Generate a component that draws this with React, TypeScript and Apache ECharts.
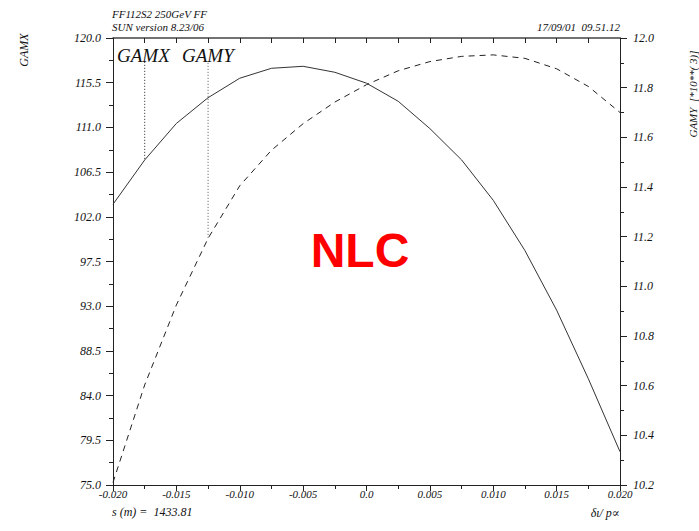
import React, { useEffect, useRef } from "react";
import * as echarts from "echarts";

// ---- data ----
const xValues = [
  -0.02, -0.0175, -0.015, -0.0125, -0.01, -0.0075, -0.005, -0.0025, 0,
  0.0025, 0.005, 0.0075, 0.01, 0.0125, 0.015, 0.0175, 0.02,
];
const gamx = [
  103.26, 107.72, 111.4, 113.99, 115.95, 116.95, 117.15, 116.55, 115.45,
  113.63, 110.88, 107.73, 103.66, 98.6, 92.6, 85.7, 78.35,
];
const gamy = [
  10.21, 10.603, 10.925, 11.193, 11.405, 11.548, 11.655, 11.742, 11.812,
  11.868, 11.905, 11.926, 11.932, 11.918, 11.876, 11.805, 11.7,
];
const xTicks = [-0.02, -0.015, -0.01, -0.005, 0, 0.005, 0.01, 0.015, 0.02];
const xMinorTicks = [-0.0175, -0.0125, -0.0075, -0.0025, 0.0025, 0.0075, 0.0125, 0.0175];
const gamxTicks = [75, 79.5, 84, 88.5, 93, 97.5, 102, 106.5, 111, 115.5, 120];
const gamxMinorTicks = [77.25, 81.75, 86.25, 90.75, 95.25, 99.75, 104.25, 108.75, 113.25, 117.75];
const gamyTicks = [10.2, 10.4, 10.6, 10.8, 11.0, 11.2, 11.4, 11.6, 11.8, 12.0];
const gamyMinorTicks = [10.3, 10.5, 10.7, 10.9, 11.1, 11.3, 11.5, 11.7, 11.9];
// legend marker lines: index into data and top value of the dotted line
const gamxMarkerIdx = 1;
const gamyMarkerIdx = 3;
const gamxMarkerTop = 117.6;
const gamyMarkerTop = 11.9;

const SERIF = '"Liberation Serif", "DejaVu Serif", serif';
const AXIS_COLOR = "#222";
const TEXT_COLOR = "#111";

export default function App() {
  const ref = useRef<HTMLDivElement>(null);

  useEffect(() => {
    if (!ref.current) return;
    const chart = echarts.init(ref.current, undefined, { renderer: "svg" });

    const labelStyle = {
      fontFamily: SERIF,
      fontStyle: "italic" as const,
      fontSize: 12,
      color: TEXT_COLOR,
    };

    const option: any = {
      animation: false,
      backgroundColor: "#fff",
      grid: { left: 113, right: 79, top: 38, bottom: 46, containLabel: false },
      xAxis: [
        {
          type: "value",
          position: "bottom",
          min: -0.02,
          max: 0.02,
          axisLine: { show: true, onZero: false, lineStyle: { color: AXIS_COLOR, width: 1 } },
          axisTick: { show: true, customValues: xTicks, length: 6, lineStyle: { color: AXIS_COLOR } },
          axisLabel: {
            ...labelStyle,
            fontSize: 11,
            margin: 3,
            customValues: xTicks,
            formatter: (v: number) => (Math.abs(v) < 1e-9 ? "0.0" : v.toFixed(3)),
          },
          splitLine: { show: false },
        },
        {
          type: "value",
          position: "bottom",
          min: -0.02,
          max: 0.02,
          axisLine: { show: false, onZero: false },
          axisTick: { show: true, customValues: xMinorTicks, length: 4, lineStyle: { color: AXIS_COLOR } },
          axisLabel: { show: false },
          splitLine: { show: false },
        },
        {
          type: "value",
          position: "top",
          min: -0.02,
          max: 0.02,
          axisLine: { show: true, onZero: false, lineStyle: { color: "#444", width: 1.5 } },
          axisTick: {
            show: true,
            inside: true,
            customValues: [...xTicks, ...xMinorTicks],
            length: 5,
            lineStyle: { color: AXIS_COLOR },
          },
          axisLabel: { show: false },
          splitLine: { show: false },
        },
      ],
      yAxis: [
        {
          type: "value",
          position: "left",
          min: 75,
          max: 120,
          axisLine: { show: true, onZero: false, lineStyle: { color: AXIS_COLOR, width: 1 } },
          axisTick: { show: true, customValues: gamxTicks, length: 7, lineStyle: { color: AXIS_COLOR } },
          axisLabel: {
            ...labelStyle,
            margin: 12,
            customValues: gamxTicks,
            formatter: (v: number) => v.toFixed(1),
          },
          splitLine: { show: false },
        },
        {
          type: "value",
          position: "left",
          min: 75,
          max: 120,
          axisLine: { show: false, onZero: false },
          axisTick: { show: true, customValues: gamxMinorTicks, length: 4, lineStyle: { color: AXIS_COLOR } },
          axisLabel: { show: false },
          splitLine: { show: false },
        },
        {
          type: "value",
          position: "right",
          min: 10.2,
          max: 12.0,
          axisLine: { show: true, onZero: false, lineStyle: { color: AXIS_COLOR, width: 1 } },
          axisTick: { show: true, customValues: gamyTicks, length: 7, lineStyle: { color: AXIS_COLOR } },
          axisLabel: {
            ...labelStyle,
            margin: 13,
            customValues: gamyTicks,
            formatter: (v: number) => v.toFixed(1),
          },
          splitLine: { show: false },
        },
        {
          type: "value",
          position: "right",
          min: 10.2,
          max: 12.0,
          axisLine: { show: false, onZero: false },
          axisTick: { show: true, customValues: gamyMinorTicks, length: 4, lineStyle: { color: AXIS_COLOR } },
          axisLabel: { show: false },
          splitLine: { show: false },
        },
      ],
      series: [
        {
          name: "GAMX",
          type: "line",
          xAxisIndex: 0,
          yAxisIndex: 0,
          data: xValues.map((x, i) => [x, gamx[i]]),
          symbol: "none",
          smooth: false,
          lineStyle: { color: "#333", width: 1 },
        },
        {
          name: "GAMY",
          type: "line",
          xAxisIndex: 0,
          yAxisIndex: 2,
          data: xValues.map((x, i) => [x, gamy[i]]),
          symbol: "none",
          smooth: false,
          lineStyle: { color: "#222", width: 1, type: [6, 5] },
        },
        {
          name: "GAMX marker",
          type: "line",
          xAxisIndex: 0,
          yAxisIndex: 0,
          data: [
            [xValues[gamxMarkerIdx], gamxMarkerTop],
            [xValues[gamxMarkerIdx], gamx[gamxMarkerIdx]],
          ],
          symbol: "none",
          lineStyle: { color: "#222", width: 1, type: [1, 2] },
        },
        {
          name: "GAMY marker",
          type: "line",
          xAxisIndex: 0,
          yAxisIndex: 2,
          data: [
            [xValues[gamyMarkerIdx], gamyMarkerTop],
            [xValues[gamyMarkerIdx], gamy[gamyMarkerIdx]],
          ],
          symbol: "none",
          lineStyle: { color: "#555", width: 1, type: [1, 2] },
        },
      ],
      graphic: [
        {
          type: "text",
          x: 112,
          y: 14,
          style: { text: "FF112S2 250GeV FF", font: `italic 11px ${SERIF}`, fill: TEXT_COLOR, align: "left", verticalAlign: "middle" },
        },
        {
          type: "text",
          x: 112,
          y: 27,
          style: { text: "SUN version 8.23/06", font: `italic 11px ${SERIF}`, fill: TEXT_COLOR, align: "left", verticalAlign: "middle" },
        },
        {
          type: "text",
          x: 620,
          y: 27,
          style: { text: "17/09/01  09.51.12", font: `italic 11px ${SERIF}`, fill: TEXT_COLOR, align: "right", verticalAlign: "middle" },
        },
        {
          type: "text",
          x: 117,
          y: 55,
          style: { text: "GAMX", font: `italic 19px ${SERIF}`, fill: TEXT_COLOR, align: "left", verticalAlign: "middle" },
        },
        {
          type: "text",
          x: 182,
          y: 55,
          style: { text: "GAMY", font: `italic 19px ${SERIF}`, fill: TEXT_COLOR, align: "left", verticalAlign: "middle" },
        },
        {
          type: "text",
          x: 24,
          y: 50,
          rotation: Math.PI / 2,
          style: { text: "GAMX", font: `italic 12px ${SERIF}`, fill: TEXT_COLOR, align: "center", verticalAlign: "middle" },
        },
        {
          type: "text",
          x: 693,
          y: 94,
          rotation: Math.PI / 2,
          style: { text: "GAMY  [*10**( 3)]", font: `italic 11px ${SERIF}`, fill: TEXT_COLOR, align: "center", verticalAlign: "middle" },
        },
        {
          type: "text",
          x: 112,
          y: 512,
          style: { text: "s (m) =  1433.81", font: `italic 12px ${SERIF}`, fill: TEXT_COLOR, align: "left", verticalAlign: "middle" },
        },
        {
          type: "text",
          x: 620,
          y: 513,
          style: { text: "δι/ p∝", font: `italic 12px ${SERIF}`, fill: TEXT_COLOR, align: "right", verticalAlign: "middle" },
        },
        {
          type: "text",
          x: 360,
          y: 250,
          style: { text: "NLC", font: `bold 48px "Liberation Sans", Arial, sans-serif`, fill: "#ff0000", align: "center", verticalAlign: "middle" },
        },
      ],
    };

    chart.setOption(option);
    return () => chart.dispose();
  }, []);

  return (
    <div
      ref={ref}
      style={{ position: "absolute", left: 0, top: 0, width: 699, height: 531, background: "#fff" }}
    />
  );
}
